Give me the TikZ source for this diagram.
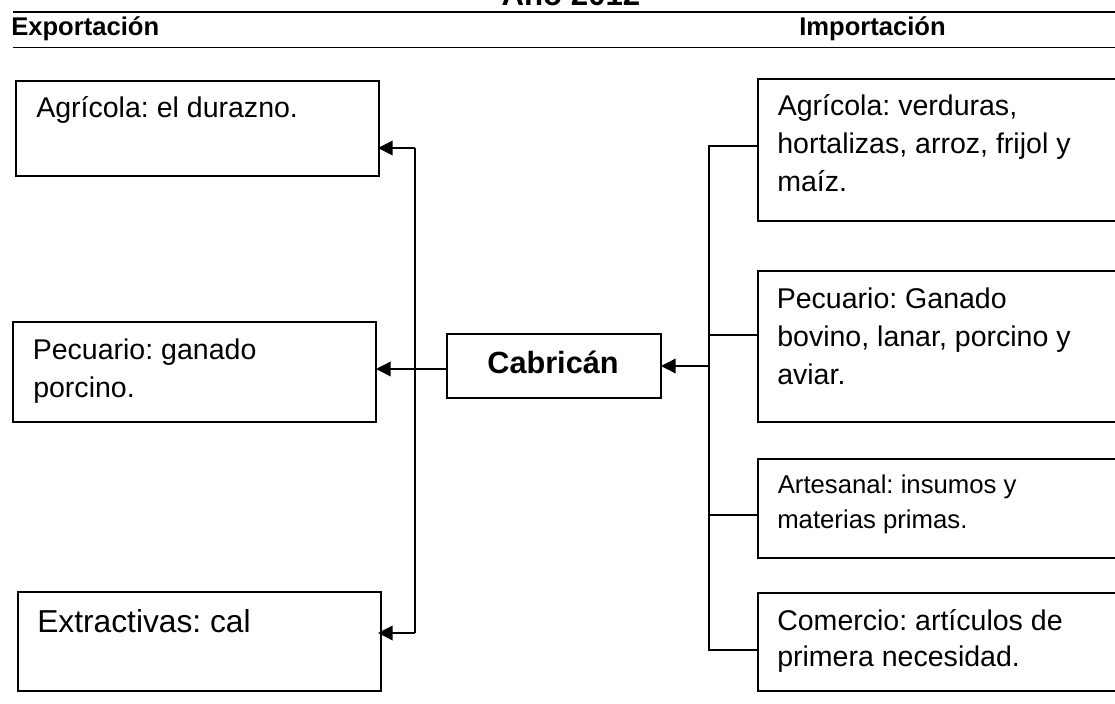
\documentclass[tikz,border=0pt]{standalone}
\usepackage{fontspec}
\setmainfont{Liberation Sans}
\usetikzlibrary{arrows.meta}
\frenchspacing
\newcommand{\fs}[1]{\fontsize{#1}{#1}\selectfont}
\tikzset{x=0.75pt,y=-0.75pt,
 boxst/.style={draw=black,line width=1.05pt,anchor=north west,inner sep=0pt,outer sep=0pt},
 txt/.style={anchor=base west,inner sep=0pt,text=black},
 bodytxt/.style={txt,font=\fs{21.4}},
 smalltxt/.style={txt,font=\fs{19.3}},
 hdr/.style={anchor=base west,inner sep=0pt,font=\bfseries\fs{19.2}},
 rule/.style={draw=black,line width=1.3pt},
 conn/.style={draw=black,line width=1.05pt},
 arr/.style={conn,-{Triangle[length=11pt,width=11pt]}}}
\newcommand{\bx}[5]{\node[boxst,minimum width=#4*0.75pt,minimum height=#5*0.75pt] (#1) at (#2,#3) {};}
\begin{document}
\begin{tikzpicture}
\useasboundingbox (0,0) rectangle (1115,704);
\clip (0,0) rectangle (1115,704);
\fill[white] (0,0) rectangle (1115,704);
\node[anchor=base,inner sep=0pt,font=\bfseries\fs{23.4}] (title) at (571,5) {Año 2012};
\coordinate (tl) at (13,12); \coordinate (tr) at (1115,12);
\coordinate (bl) at (13,47.5); \coordinate (br) at (1115,47.5);
\draw[rule] (tl) -- (tr);
\draw[rule] (bl) -- (br);
\node[hdr] (exp) at (11,35) {Exportación};
\node[hdr] (imp) at (799,35) {Importación};
% left boxes
\bx{a1}{16}{81}{363}{95}
\bx{a2}{13}{322}{363}{100}
\bx{a3}{18}{592}{363}{99}
\node[bodytxt] (ta) at (36,117.5) {Agrícola: el durazno.};
\node[bodytxt] (tb) at (32.5,359) {Pecuario: ganado};
\node[bodytxt] (tb2) at (33,397) {porcino.};
\node[txt,font=\fs{23.8}] (tc) at (37,632) {Extractivas: cal};
% centre
\bx{c}{447}{334}{214}{64}
\node[anchor=base,inner sep=0pt,font=\bfseries\fs{23}] (cab) at (553,373) {Cabricán};
% right boxes, cut by the picture's edge
\bx{r1}{758}{79}{370}{142}
\bx{r2}{758}{271}{370}{151}
\bx{r3}{758}{459}{370}{99}
\bx{r4}{758}{593}{370}{98}
\node[bodytxt] (t1) at (777.5,115.5) {Agrícola: verduras,};
\node[bodytxt] (t2) at (777,153) {hortalizas, arroz, frijol y};
\node[bodytxt] (t3) at (777,191) {maíz.};
\node[bodytxt] (t4) at (776.5,308) {Pecuario: Ganado};
\node[bodytxt] (t5) at (777,346) {bovino, lanar, porcino y};
\node[bodytxt] (t6) at (777,384) {aviar.};
\node[smalltxt] (t7) at (777.5,493) {Artesanal: insumos y};
\node[smalltxt] (t8) at (777,528) {materias primas.};
\node[bodytxt] (t9) at (777,630) {Comercio: artículos de};
\node[bodytxt] (t10) at (777,666) {primera necesidad.};
% left bus
\coordinate (lb1) at (415,148); \coordinate (lb3) at (415,633);
\coordinate (cl) at (447,369);
\draw[conn] (lb1) -- (lb3);
\draw[arr,shorten >=-0.75pt] (lb1) -- (lb1 -| a1.east);
\draw[arr,shorten >=-2.25pt] (lb3) -- (lb3 -| a3.east);
\draw[arr] (cl) -- (cl -| a2.east);
% right bus
\coordinate (rb1) at (709,146); \coordinate (rb2) at (709,335);
\coordinate (rb3) at (709,515); \coordinate (rb4) at (709,650);
\coordinate (rbc) at (709,366);
\draw[conn] (rb1 -| r1.west) -- (rb1) -- (rb4) -- (rb4 -| r4.west);
\draw[conn] (rb2) -- (rb2 -| r2.west);
\draw[conn] (rb3) -- (rb3 -| r3.west);
\draw[arr] (rbc) -- (c.east);
\end{tikzpicture}
\end{document}
